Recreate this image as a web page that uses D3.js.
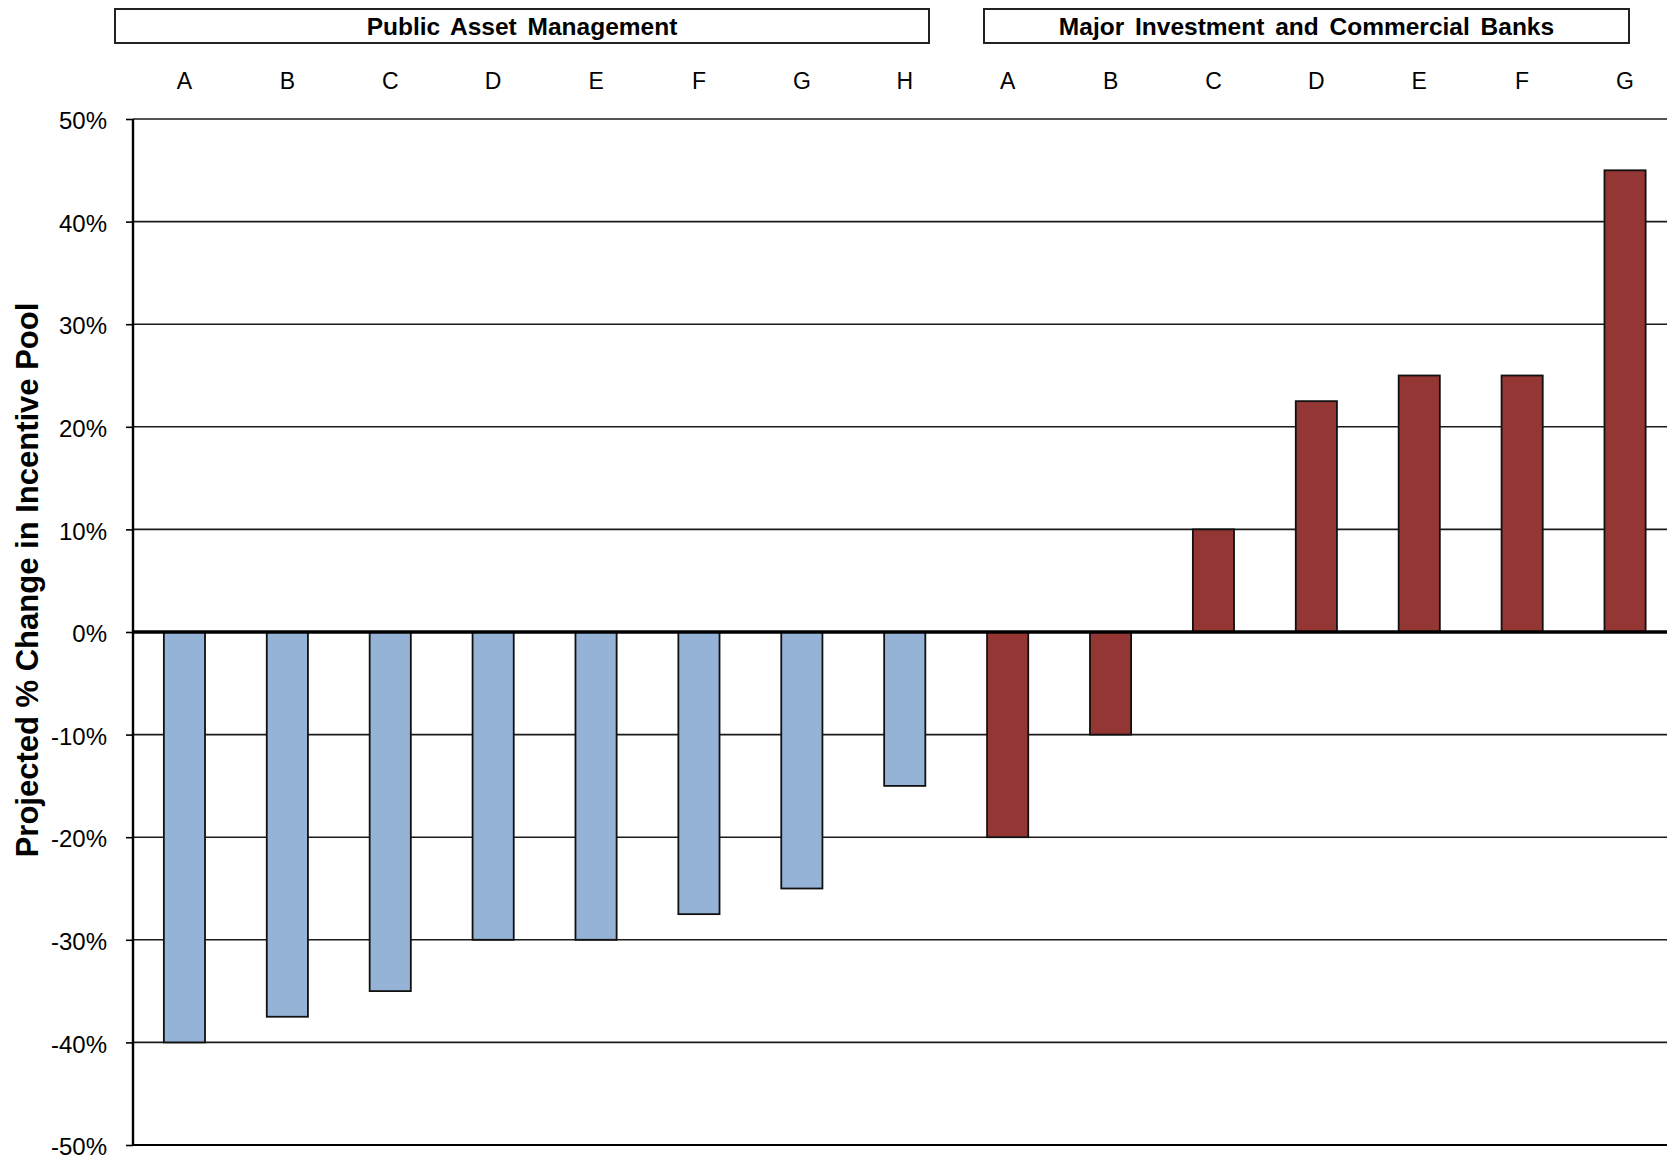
<!DOCTYPE html>
<html>
<head>
<meta charset="utf-8">
<script src="https://cdn.jsdelivr.net/npm/d3@7"></script>
<style>
  html, body { margin: 0; padding: 0; background: #fff; }
  svg { display: block; }
</style>
</head>
<body>
<svg id="chart" width="1667" height="1158"></svg>
<script>
const categories = ["A","B","C","D","E","F","G","H","A","B","C","D","E","F","G"];
const groups = ["Public Asset Management","Major Investment and Commercial Banks"];
const groupOf = [0,0,0,0,0,0,0,0,1,1,1,1,1,1,1];
const values = [-40,-37.5,-35,-30,-30,-27.5,-25,-15,-20,-10,10,22.5,25,25,45];
const yTicks = [50,40,30,20,10,0,-10,-20,-30,-40,-50];
const groupColors = ["#95B3D7","#943634"];
const yTitle = "Projected % Change in Incentive Pool";

const svg = d3.select("#chart");
const mL = 133, mR = 1676.5, mT = 119, mB = 1145;
const font = "'Liberation Sans', Arial, sans-serif";

const x = d3.scaleBand().domain(d3.range(categories.length)).range([mL, mR]).paddingInner(0.6).paddingOuter(0.3);
const y = d3.scaleLinear().domain([-50, 50]).range([mB, mT]);

// gridlines
svg.append("g").selectAll("line").data(yTicks.filter(d => d !== 0 && d !== -50)).join("line")
  .attr("x1", mL).attr("x2", 1667)
  .attr("y1", d => y(d)).attr("y2", d => y(d))
  .attr("stroke", "#1a1a1a").attr("stroke-width", 1.6);
svg.append("line").attr("x1", mL).attr("x2", 1667).attr("y1", y(-50)).attr("y2", y(-50))
  .attr("stroke", "#000").attr("stroke-width", 2);

// y axis
const yAxis = d3.axisLeft(y).tickValues(yTicks).tickFormat(d => d + "%").tickSize(7).tickPadding(19);
const ga = svg.append("g").attr("transform", `translate(${mL},0)`).call(yAxis);
ga.select(".domain").attr("stroke", "#000").attr("stroke-width", 2.4).attr("d", `M0,${mT}V${mB}`);
ga.selectAll(".tick line").attr("stroke", "#000").attr("stroke-width", 1.6);
ga.selectAll(".tick text").attr("font-family", font).attr("font-size", 24).attr("fill", "#000").attr("dy", "0.4em");

// bars
svg.append("g").selectAll("rect").data(values).join("rect")
  .attr("x", (d, i) => x(i))
  .attr("width", x.bandwidth())
  .attr("y", d => y(Math.max(0, d)))
  .attr("height", d => Math.abs(y(d) - y(0)))
  .attr("fill", (d, i) => groupColors[groupOf[i]])
  .attr("stroke", "#111").attr("stroke-width", 1.8);

// zero line
svg.append("line").attr("x1", mL).attr("x2", 1667).attr("y1", y(0)).attr("y2", y(0))
  .attr("stroke", "#000").attr("stroke-width", 3.5);

// category labels
svg.append("g").selectAll("text").data(categories).join("text")
  .attr("x", (d, i) => x(i) + x.bandwidth() / 2)
  .attr("y", 89)
  .attr("text-anchor", "middle")
  .attr("font-family", font)
  .attr("font-size", 23)
  .text(d => d);

// group boxes
const boxes = [[115, 929], [984, 1629]];
const gb = svg.append("g").selectAll("g").data(groups).join("g");
gb.append("rect")
  .attr("x", (d, i) => boxes[i][0]).attr("y", 9)
  .attr("width", (d, i) => boxes[i][1] - boxes[i][0]).attr("height", 34)
  .attr("fill", "#fff").attr("stroke", "#222").attr("stroke-width", 2);
gb.append("text")
  .attr("x", (d, i) => (boxes[i][0] + boxes[i][1]) / 2)
  .attr("y", 35)
  .attr("text-anchor", "middle")
  .attr("font-family", font)
  .attr("font-weight", "bold")
  .attr("font-size", 24.5)
  .attr("word-spacing", 4)
  .text(d => d);

// y title
svg.append("text")
  .attr("transform", `translate(38, 580) rotate(-90)`)
  .attr("text-anchor", "middle")
  .attr("font-family", font)
  .attr("font-weight", "bold")
  .attr("font-size", 31)
  .text(yTitle);
</script>
</body>
</html>
